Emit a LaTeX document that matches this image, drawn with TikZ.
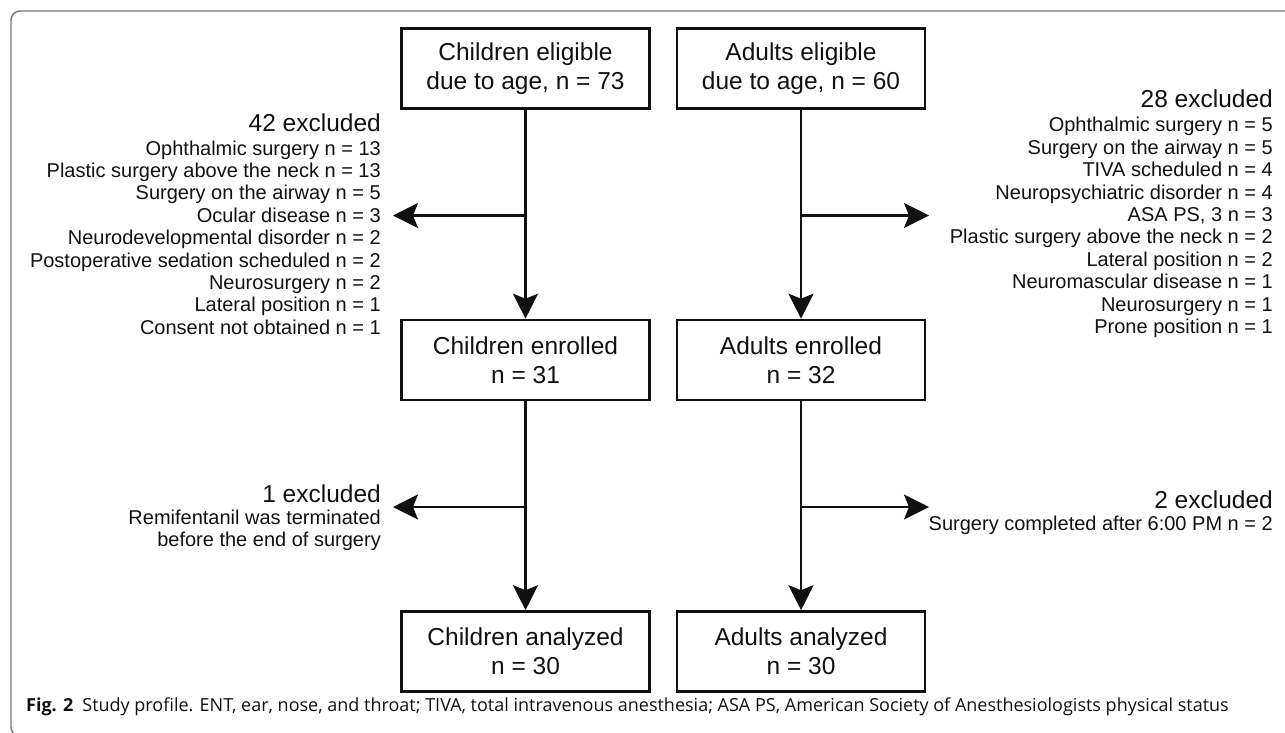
\documentclass[tikz,border=0pt]{standalone}
\usepackage{fontspec}
\setmainfont{Liberation Sans}
\newfontfamily\capfont{Open Sans}
\usetikzlibrary{arrows.meta}
\definecolor{ink}{HTML}{111111}
\definecolor{framegray}{HTML}{777777}
\begin{document}
\begin{tikzpicture}[x=1pt,y=-1pt,
  box/.style={draw=ink, line width=2.6pt, minimum width=248pt, minimum height=80pt,
    align=center, inner sep=0pt, text=ink, font=\fontsize{24.5}{28.7}\selectfont},
  head/.style={anchor=base east, inner sep=0pt, text=ink, font=\fontsize{24.5}{28}\selectfont},
  list/.style={anchor=base east, inner sep=0pt, align=right, text=ink, font=\fontsize{20}{22.4}\selectfont},
  arr/.style={draw=ink, line width=2.3pt, -{Stealth[length=25pt, width=25pt, inset=5pt]}},
  conn/.style={draw=ink, line width=2.3pt}]
\useasboundingbox (0,0) rectangle (1285,732);
\clip (0,0) rectangle (1285,732);
% frame
\draw[framegray, line width=1.4pt, rounded corners=9pt] (1300,11) -- (11,11) -- (11,736) -- (120,736);

% boxes
\node[box] (c1) at (525.5,68.5) {Children eligible\\due to age, n = 73};
\node[box] (a1) at (801,68.5) {Adults eligible\\due to age, n = 60};
\node[box] (c2) at (525.5,360) {Children enrolled\\n = 31};
\node[box] (a2) at (801,360) {Adults enrolled\\n = 32};
\node[box] (c3) at (525.5,651.5) {Children analyzed\\n = 30};
\node[box] (a3) at (801,651.5) {Adults analyzed\\n = 30};

% main arrows
\draw[arr] (c1) -- (c2);
\draw[arr] (a1) -- (a2);
\draw[arr] (c2) -- (c3);
\draw[arr] (a2) -- (a3);

% branch points and tips
\coordinate (cb1) at (526,215.5);
\coordinate (ct1) at (393,215.5);
\coordinate (ab1) at (800,215.5);
\coordinate (at1) at (929,215.5);
\coordinate (cb2) at (526,507);
\coordinate (ct2) at (393,507);
\coordinate (ab2) at (800,507);
\coordinate (at2) at (929,507);
\draw[arr] (cb1) -- (ct1);
\draw[arr] (ab1) -- (at1);
\draw[arr] (cb2) -- (ct2);
\draw[arr] (ab2) -- (at2);

% exclusion texts (base anchor = baseline of last line)
\node[head] (ch1) at (381,131.7) {42 excluded};
\node[list] (cl1) at (381,334.2) {Ophthalmic surgery n = 13\\Plastic surgery above the neck n = 13\\Surgery on the airway n = 5\\Ocular disease n = 3\\Neurodevelopmental disorder n = 2\\Postoperative sedation scheduled n = 2\\Neurosurgery n = 2\\Lateral position n = 1\\Consent not obtained n = 1};
\node[head] (ah1) at (1273,107.5) {28 excluded};
\node[list] (al1) at (1273,333.4) {Ophthalmic surgery n = 5\\Surgery on the airway n = 5\\TIVA scheduled n = 4\\Neuropsychiatric disorder n = 4\\ASA PS, 3 n = 3\\Plastic surgery above the neck n = 2\\Lateral position n = 2\\Neuromascular disease n = 1\\Neurosurgery n = 1\\Prone position n = 1};
\node[head] (ch2) at (381,502) {1 excluded};
\node[list, font=\fontsize{20}{22}\selectfont] (cl2) at (381,546) {Remifentanil was terminated\\before the end of surgery};
\node[head] (ah2) at (1273,508) {2 excluded};
\node[list] (al2) at (1273,530) {Surgery completed after 6:00 PM n = 2};

% caption
\node[anchor=base west, inner sep=0pt, text=ink, font=\capfont\fontsize{18}{21}\selectfont] (cap) at (26,711)
  {\textbf{Fig. 2}\hspace{0.5em}Study profile. ENT, ear, nose, and throat; TIVA, total intravenous anesthesia; ASA PS, American Society of Anesthesiologists physical status};
\end{tikzpicture}
\end{document}
